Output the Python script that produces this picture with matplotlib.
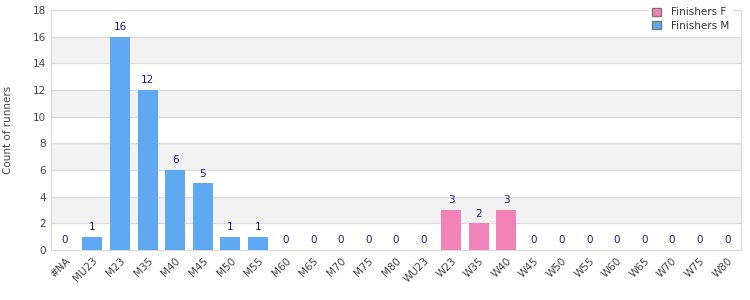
import matplotlib.pyplot as plt
from matplotlib.patches import Patch

categories = ["#NA", "MU23", "M23", "M35", "M40", "M45", "M50", "M55", "M60", "M65",
              "M70", "M75", "M80", "WU23", "W23", "W35", "W40", "W45", "W50", "W55",
              "W60", "W65", "W70", "W75", "W80"]
finishers_m = [0, 1, 16, 12, 6, 5, 1, 1, 0, 0, 0, 0, 0, 0, 0, 0, 0, 0, 0, 0, 0, 0, 0, 0, 0]
finishers_f = [0, 0, 0, 0, 0, 0, 0, 0, 0, 0, 0, 0, 0, 0, 3, 2, 3, 0, 0, 0, 0, 0, 0, 0, 0]

BLUE = "#5fa8f2"
PINK = "#f283b9"


def main():
    plt.rcParams["font.family"] = "DejaVu Sans"
    fig = plt.figure(figsize=(7.5, 3), dpi=100)
    ax = fig.add_axes([0.068, 0.167, 0.92, 0.8])

    x = list(range(len(categories)))
    ax.bar(x, finishers_m, width=0.72, color=BLUE, zorder=3)
    ax.bar(x, finishers_f, width=0.72, bottom=finishers_m, color=PINK, zorder=3)

    # bande alternate
    for lo in range(2, 18, 4):
        ax.axhspan(lo, lo + 2, color="#f2f2f2", zorder=0, lw=0)
    for y in range(2, 18, 2):
        ax.axhline(y, color="#dddddd", lw=1, zorder=1)

    for xi, (m, f) in enumerate(zip(finishers_m, finishers_f)):
        total = m + f
        ax.text(xi, total + 0.35, str(total), ha="center", va="bottom",
                fontsize=7.5, color="#1a1a8c", zorder=4)

    ax.set_xlim(-0.5, len(categories) - 0.5)
    ax.set_ylim(0, 18)
    ax.set_yticks(range(0, 19, 2))
    ax.set_xticks(x)
    ax.set_xticklabels(categories, rotation=45, ha="right", rotation_mode="anchor")
    ax.tick_params(axis="both", length=0, labelsize=7.5, labelcolor="#444444")
    ax.tick_params(axis="x", pad=4)
    ax.set_ylabel("Count of runners", fontsize=7.5, color="#444444", labelpad=14)

    for s in ax.spines.values():
        s.set_color("#d9d9d9")

    handles = [Patch(facecolor=PINK, edgecolor="#777777", label="Finishers F"),
               Patch(facecolor=BLUE, edgecolor="#777777", label="Finishers M")]
    leg = ax.legend(handles=handles, loc="upper right", bbox_to_anchor=(0.995, 1.045),
                    fontsize=7.5, frameon=True, framealpha=1, edgecolor="white",
                    fancybox=False, handlelength=0.8, handleheight=0.8,
                    handletextpad=1.0, borderpad=0.3, labelspacing=0.35)
    leg.set_zorder(5)
    for t in leg.get_texts():
        t.set_color("#333333")

    fig.savefig("out.png", dpi=100, facecolor="white")
    plt.close(fig)


if __name__ == "__main__":
    main()
